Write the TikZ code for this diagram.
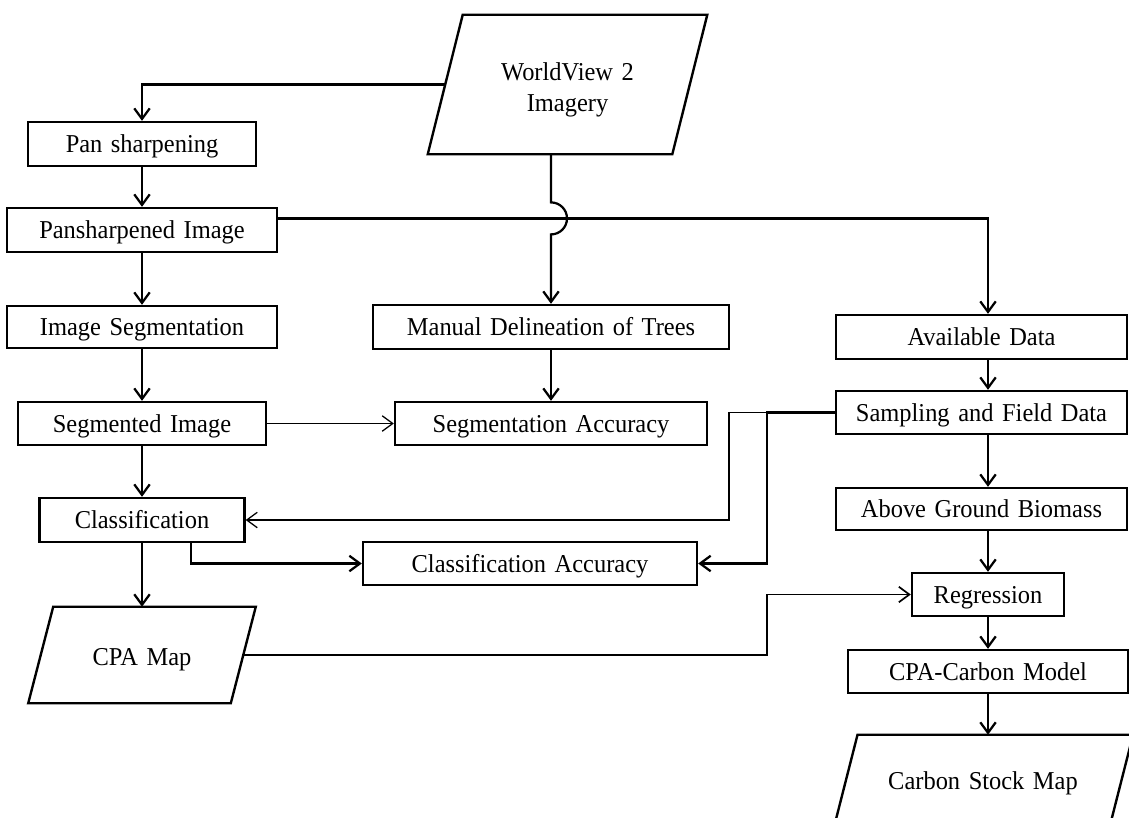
\documentclass[tikz,border=0pt]{standalone}
\usepackage{fontspec}
\setmainfont{Liberation Serif}[FakeStretch=0.95,WordSpace=1.4]
\usetikzlibrary{arrows.meta,calc}
\begin{document}
\begin{tikzpicture}[x=0.025cm,y=-0.025cm,
  wh/.style 2 args={minimum width=#1*0.025cm,minimum height=#2*0.025cm},
  lbl/.style={font=\fontsize{18.3}{22}\selectfont},
  box/.style={lbl,draw,line width=1.7pt,rectangle,inner sep=0pt,text height=12.2pt,text depth=0pt},
  para/.style={lbl,rectangle,inner sep=0pt,align=center},
  parl/.style={line width=1.7pt,line join=miter},
  arr/.style={line width=1.6pt,-{Straight Barb[length=7.5pt,width=11pt]}},
  medarr/.style={line width=1.2pt,-{Straight Barb[length=7.5pt,width=11pt]}},
  thinarr/.style={line width=0.9pt,-{Straight Barb[length=7.5pt,width=11pt]}}
]
\useasboundingbox (0,0) rectangle (1129,817);
\clip (0,0) rectangle (1129,817);
\fill[white] (0,0) rectangle (1129,817);

% left column
\node[box,wh={228}{44}] (ps) at (142,144) {Pan sharpening};
\node[box,wh={270}{44}] (pim) at (142,230) {Pansharpened Image};
\node[box,wh={270}{42}] (iseg) at (142,327) {Image Segmentation};
\node[box,wh={248}{43}] (seg) at (142,423.5) {Segmented Image};
\node[box,wh={205}{44}] (cls) at (142,520) {Classification};
\node[para,wh={202}{96}] (cpa) at (142,655) {};
\node[lbl] (cpat) at (142,660) {CPA Map};

% middle
\node[para,wh={244}{139}] (wv) at (567.5,84.5) {};
\node[lbl,align=center] (wvt) at (567.5,89.5) {WorldView 2\\Imagery};
\node[box,wh={356}{44}] (mdt) at (551,327) {Manual Delineation of Trees};
\node[box,wh={312}{43}] (sacc) at (551,423.5) {Segmentation Accuracy};
\node[box,wh={334}{43}] (cacc) at (530,563.5) {Classification Accuracy};

% right column
\node[box,wh={291}{44}] (avd) at (981.5,337) {Available Data};
\node[box,wh={291}{43}] (sfd) at (981.5,412.5) {Sampling and Field Data};
\node[box,wh={291}{42}] (agb) at (981.5,509) {Above Ground Biomass};
\node[box,wh={152}{43}] (reg) at (988,594.5) {Regression};
\node[box,wh={280}{43}] (cpc) at (988,671.5) {CPA-Carbon Model};
\node[para,wh={275}{96}] (csm) at (983,783) {Carbon Stock Map};

% parallelogram outlines
\draw[parl] ($(wv.north west)+(17.5,0)$) -- ($(wv.north east)+(17.5,0)$) -- ($(wv.south east)+(-17.5,0)$) -- ($(wv.south west)+(-17.5,0)$) -- cycle;
\draw[parl] ($(cpa.north west)+(12.5,0)$) -- ($(cpa.north east)+(12.5,0)$) -- ($(cpa.south east)+(-12.5,0)$) -- ($(cpa.south west)+(-12.5,0)$) -- cycle;
\draw[parl] ($(csm.north west)+(12.3,0)$) -- ($(csm.north east)+(12.3,0)$) -- ($(csm.south east)+(-12.3,0)$) -- ($(csm.south west)+(-12.3,0)$) -- cycle;

% helper coordinates
\coordinate (colR) at (988,0);
\coordinate (colM) at (551,0);
\coordinate (j1) at (729,0);
\coordinate (j2) at (767,0);
\coordinate (j3) at (191,0);
\coordinate (pimR) at ($(pim.north east)!0.25!(pim.south east)$);

% connectors
\draw[arr] (wv.west) -| (ps.north);
\draw[arr] (ps) -- (pim);
\draw[arr] (pim) -- (iseg);
\draw[arr] (iseg) -- (seg);
\draw[arr] (seg) -- (cls);
\draw[arr] (cls.south) -- (cls.south |- cpa.north);
\draw[arr] (pimR) -| (avd.north -| colR);
\draw[arr] (wv.south -| colM) -- ($(colM |- pimR)+(0,-16)$) arc[start angle=90,end angle=-90,radius=0.4cm] -- (mdt.north -| colM);
\draw[arr] (mdt.south -| colM) -- (sacc.north -| colM);
\draw[thinarr] (seg.east) -- (sacc.west);
\draw[arr] (avd.south -| colR) -- (sfd.north -| colR);
\draw[arr] (sfd.south -| colR) -- (agb.north -| colR);
\draw[arr] (agb.south -| colR) -- (reg.north);
\draw[arr] (reg) -- (cpc);
\draw[arr] (cpc.south) -- (cpc.south |- csm.north);
\draw[thinarr] (sfd.west) -- (sfd.west -| j1) |- (cls.east);
\draw[arr] (sfd.west) -- (sfd.west -| j2) |- (cacc.east);
\draw[arr] (cls.south -| j3) |- (cacc.west);
\draw[medarr] (cpa.east) -- (cpa.east -| j2) |- (reg.west);
\end{tikzpicture}
\end{document}
